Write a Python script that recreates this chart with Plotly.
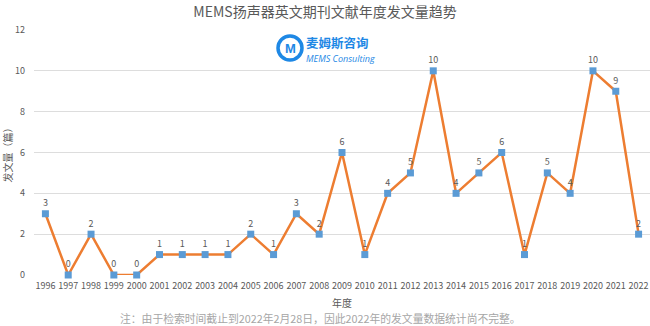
import plotly.graph_objects as go

years = list(range(1996, 2023))
counts = [3, 0, 2, 0, 0, 1, 1, 1, 1, 2, 1, 3, 2, 6, 1, 4, 5, 10, 4, 5, 6, 1, 5, 4, 10, 9, 2]
title = "MEMS扬声器英文期刊文献年度发文量趋势"
y_title = "发文量（篇）"
x_title = "年度"
note = "注：由于检索时间截止到2022年2月28日，因此2022年的发文量数据统计尚不完整。"

FONT = "Noto Sans CJK SC, Open Sans, sans-serif"
GREY = "#595959"

def px_x(p):
    return (p - 34) / 616

def px_y(p):
    return (275 - p) / 245

fig = go.Figure()
fig.add_trace(go.Scatter(
    x=years, y=counts, mode="lines+markers+text",
    line=dict(color="#ED7D31", width=2.5),
    marker=dict(symbol="square", size=7, color="#5B9BD5"),
    text=[str(c) for c in counts], textposition="top center",
    textfont=dict(size=9, color=GREY, family=FONT),
    cliponaxis=False, showlegend=False,
))

fig.update_layout(
    width=650, height=326,
    margin=dict(l=34, r=0, t=30, b=51),
    paper_bgcolor="white", plot_bgcolor="white",
    font=dict(family=FONT, color=GREY),
    title=dict(text=title, x=0.5, xanchor="center", y=0.963, yanchor="middle",
               font=dict(size=14, color=GREY, family=FONT)),
    xaxis=dict(range=[1995.5, 2022.5], tickmode="array", tickvals=years,
               ticktext=[str(y) for y in years], tickfont=dict(size=9, color=GREY),
               showgrid=False, zeroline=False, showline=False, ticks="",
               ticklabelstandoff=4,
               title=dict(text=x_title, font=dict(size=10, color=GREY), standoff=8)),
    yaxis=dict(range=[0, 12], dtick=2, tickfont=dict(size=9, color=GREY),
               gridcolor="#DDDDDD", gridwidth=1, zeroline=False, showline=False,
               ticks="", ticklabelstandoff=8,
               title=dict(text=y_title, font=dict(size=10, color=GREY), standoff=8)),
)

# footnote
fig.add_annotation(text=note, xref="paper", yref="paper", x=px_x(320), y=px_y(318),
                   xanchor="center", yanchor="middle", showarrow=False, borderpad=0,
                   font=dict(size=10.8, color="#A6A6A6", family=FONT))

# logo (recreated with text and a shape)
fig.add_shape(type="circle", xref="paper", yref="paper",
              x0=px_x(278), x1=px_x(302), y0=px_y(60), y1=px_y(36),
              line=dict(color="#1E88E5", width=3.5))
fig.add_annotation(text="<b>M</b>", xref="paper", yref="paper",
                   x=px_x(290), y=px_y(48), xanchor="center", yanchor="middle",
                   showarrow=False,
                   font=dict(size=13, color="#1E88E5", family="Liberation Sans"))
fig.add_annotation(text="<b>麦姆斯咨询</b>", xref="paper", yref="paper",
                   x=px_x(305), y=px_y(43), xanchor="left", yanchor="middle",
                   showarrow=False, borderpad=0,
                   font=dict(size=12.5, color="#1E88E5", family="Noto Sans CJK SC"))
fig.add_annotation(text="<i>MEMS Consulting</i>", xref="paper", yref="paper",
                   x=px_x(305), y=px_y(59), xanchor="left", yanchor="middle",
                   showarrow=False, borderpad=0,
                   font=dict(size=9, color="#1E88E5", family="Open Sans"))

fig.write_html("out.html")
